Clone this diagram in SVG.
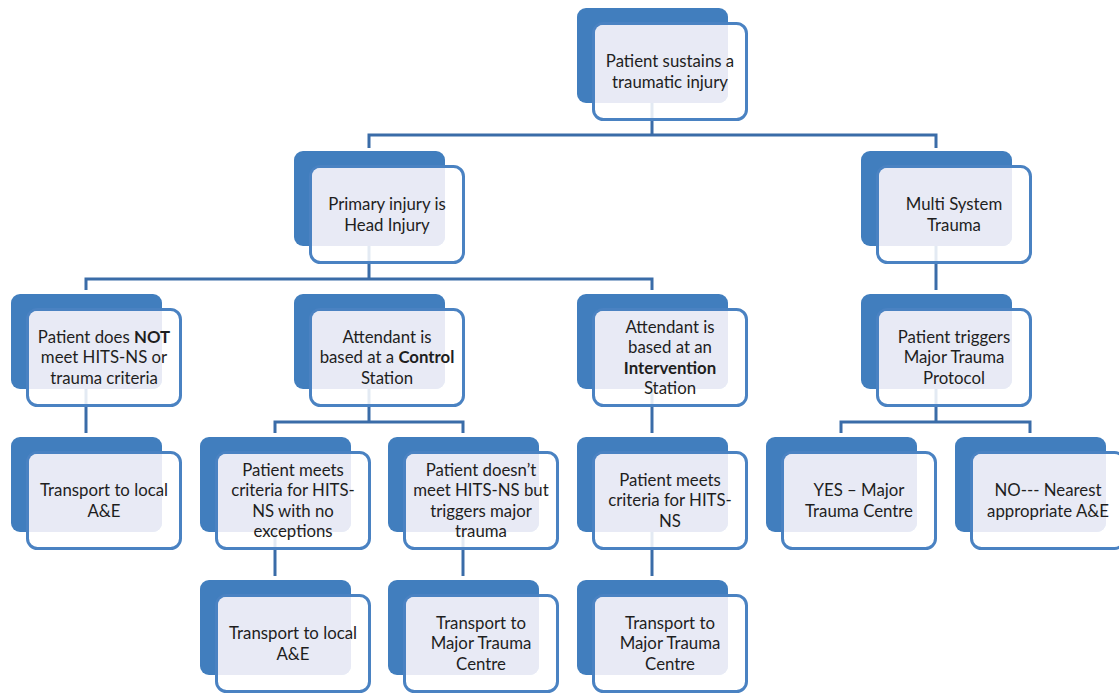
<svg xmlns="http://www.w3.org/2000/svg" xmlns:xlink="http://www.w3.org/1999/xlink" width="1119" height="693" viewBox="0 0 1119 693">
  <style>
    .wire { fill: none; stroke: #3a6ca8; stroke-width: 3; }
    .back { fill: #417ebe; }
    .card { fill: #ffffff; fill-opacity: 0.86; stroke: #4a82c2; stroke-width: 3; }
    .tint { fill: #e8eaf5; }
    .label { font-family: Lato, "Open Sans", "Liberation Sans", sans-serif; font-size: 16.8px; fill: #1e1e1e; text-anchor: middle; }
    .label tspan.b { font-weight: bold; }
  </style>
  <defs>
    <!-- one box: solid back plate, outlined card offset over it, tinted overlap -->
    <g id="box">
      <rect class="back" x="0" y="0" width="151" height="95" rx="9"/>
      <rect class="card" x="16.5" y="15.5" width="153" height="96" rx="10"/>
      <path class="tint" d="M18,25 A8,8 0 0 1 26,17 H151 V86 A9,9 0 0 1 142,95 H18 Z"/>
    </g>
  </defs>

  <!-- connectors -->
  <g id="connectors" class="wire">
    <path d="M652,103 V135 M369,148 V135 H936 V148"/>
    <path d="M369,246 V279 M86,290 V279 H652 V290"/>
    <path d="M936,246 V290"/>
    <path d="M86,389 V433"/>
    <path d="M369,389 V422 M275,433 V422 H463 V433"/>
    <path d="M652,389 V433"/>
    <path d="M936,389 V422 M841,433 V422 H1030 V433"/>
    <path d="M275,532 V576"/>
    <path d="M463,532 V576"/>
    <path d="M652,532 V576"/>
  </g>

  <!-- level 0 -->
  <g id="n-injury">
    <use xlink:href="#box" x="577" y="8"/>
    <text class="label" x="670" y="67">Patient sustains a</text>
    <text class="label" x="670" y="88">traumatic injury</text>
  </g>

  <!-- level 1 -->
  <g id="n-head">
    <use xlink:href="#box" x="294" y="151"/>
    <text class="label" x="387" y="210">Primary injury is</text>
    <text class="label" x="387" y="231">Head Injury</text>
  </g>
  <g id="n-multi">
    <use xlink:href="#box" x="861" y="151"/>
    <text class="label" x="954" y="210">Multi System</text>
    <text class="label" x="954" y="231">Trauma</text>
  </g>

  <!-- level 2 -->
  <g id="n-not">
    <use xlink:href="#box" x="11" y="294"/>
    <text class="label" x="104" y="343">Patient does <tspan class="b">NOT</tspan></text>
    <text class="label" x="104" y="363">meet HITS-NS or</text>
    <text class="label" x="104" y="384">trauma criteria</text>
  </g>
  <g id="n-control">
    <use xlink:href="#box" x="294" y="294"/>
    <text class="label" x="387" y="343">Attendant is</text>
    <text class="label" x="387" y="363">based at a <tspan class="b">Control</tspan></text>
    <text class="label" x="387" y="384">Station</text>
  </g>
  <g id="n-intervention">
    <use xlink:href="#box" x="577" y="294"/>
    <text class="label" x="670" y="333">Attendant is</text>
    <text class="label" x="670" y="353">based at an</text>
    <text class="label" x="670" y="374"><tspan class="b">Intervention</tspan></text>
    <text class="label" x="670" y="394">Station</text>
  </g>
  <g id="n-protocol">
    <use xlink:href="#box" x="861" y="294"/>
    <text class="label" x="954" y="343">Patient triggers</text>
    <text class="label" x="954" y="363">Major Trauma</text>
    <text class="label" x="954" y="384">Protocol</text>
  </g>

  <!-- level 3 -->
  <g id="n-local1">
    <use xlink:href="#box" x="11" y="437"/>
    <text class="label" x="104" y="496">Transport to local</text>
    <text class="label" x="104" y="517">A&amp;E</text>
  </g>
  <g id="n-meets">
    <use xlink:href="#box" x="200" y="437"/>
    <text class="label" x="293" y="476">Patient meets</text>
    <text class="label" x="293" y="496">criteria for HITS-</text>
    <text class="label" x="293" y="517">NS with no</text>
    <text class="label" x="293" y="537">exceptions</text>
  </g>
  <g id="n-doesnt">
    <use xlink:href="#box" x="388" y="437"/>
    <text class="label" x="481" y="476">Patient doesn’t</text>
    <text class="label" x="481" y="496">meet HITS-NS but</text>
    <text class="label" x="481" y="517">triggers major</text>
    <text class="label" x="481" y="537">trauma</text>
  </g>
  <g id="n-meets2">
    <use xlink:href="#box" x="577" y="437"/>
    <text class="label" x="670" y="486">Patient meets</text>
    <text class="label" x="670" y="506">criteria for HITS-</text>
    <text class="label" x="670" y="527">NS</text>
  </g>
  <g id="n-yes">
    <use xlink:href="#box" x="766" y="437"/>
    <text class="label" x="859" y="496">YES – Major</text>
    <text class="label" x="859" y="517">Trauma Centre</text>
  </g>
  <g id="n-no">
    <use xlink:href="#box" x="955" y="437"/>
    <text class="label" x="1048" y="496">NO--- Nearest</text>
    <text class="label" x="1048" y="517">appropriate A&amp;E</text>
  </g>

  <!-- level 4 -->
  <g id="n-local2">
    <use xlink:href="#box" x="200" y="580"/>
    <text class="label" x="293" y="639">Transport to local</text>
    <text class="label" x="293" y="660">A&amp;E</text>
  </g>
  <g id="n-mtc1">
    <use xlink:href="#box" x="388" y="580"/>
    <text class="label" x="481" y="629">Transport to</text>
    <text class="label" x="481" y="649">Major Trauma</text>
    <text class="label" x="481" y="670">Centre</text>
  </g>
  <g id="n-mtc2">
    <use xlink:href="#box" x="577" y="580"/>
    <text class="label" x="670" y="629">Transport to</text>
    <text class="label" x="670" y="649">Major Trauma</text>
    <text class="label" x="670" y="670">Centre</text>
  </g>
</svg>
